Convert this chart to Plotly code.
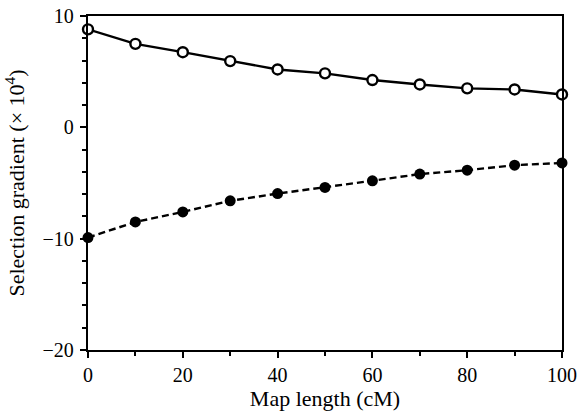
import plotly.graph_objects as go

map_length = [0, 10, 20, 30, 40, 50, 60, 70, 80, 90, 100]
open_series = [8.8, 7.5, 6.75, 5.95, 5.2, 4.85, 4.25, 3.85, 3.5, 3.4, 2.95]
filled_series = [-9.9, -8.5, -7.6, -6.6, -5.95, -5.4, -4.8, -4.2, -3.85, -3.4, -3.2]

x_ticks = [0, 20, 40, 60, 80, 100]
y_ticks = [-20, -10, 0, 10]

fig = go.Figure()
fig.add_trace(go.Scatter(
    x=map_length, y=open_series, mode="lines+markers",
    line=dict(color="black", width=2.4),
    marker=dict(symbol="circle", size=10, color="white", line=dict(color="black", width=2.4)),
    cliponaxis=False, showlegend=False))
fig.add_trace(go.Scatter(
    x=map_length, y=filled_series, mode="lines+markers",
    line=dict(color="black", width=2.4, dash="7px,4px"),
    marker=dict(symbol="circle", size=11, color="black"),
    cliponaxis=False, showlegend=False))

family = "Liberation Serif, Times New Roman, serif"
tick_font = dict(family=family, size=20, color="black")
title_font = dict(family=family, size=22, color="black")
fig.update_layout(
    width=578, height=414,
    margin=dict(l=88, r=16, t=16, b=64),
    paper_bgcolor="white", plot_bgcolor="white",
    font=tick_font,
    xaxis=dict(range=[0, 100], tickvals=x_ticks, ticks="outside", ticklen=6, tickwidth=2,
               tickcolor="black", showline=True, linecolor="black", linewidth=2.4, mirror=True,
               showgrid=False, zeroline=False, tickfont=tick_font, automargin=False,
               minor=dict(dtick=10, ticks="outside", ticklen=4, tickwidth=2, tickcolor="black", showgrid=False),
               title=dict(text="Map length (cM)", font=title_font, standoff=0)),
    yaxis=dict(range=[-20, 10], tickvals=y_ticks, ticks="outside", ticklen=6, tickwidth=2,
               tickcolor="black", showline=True, linecolor="black", linewidth=2.4, mirror=True,
               showgrid=False, zeroline=False, tickfont=tick_font, automargin=False,
               minor=dict(dtick=2, ticks="outside", ticklen=4, tickwidth=2, tickcolor="black", showgrid=False),
               ticklabelstandoff=2,
               title=dict(text="Selection gradient (× 10<sup>4</sup>)", font=title_font, standoff=12)),
)
fig.write_html("out.html")
